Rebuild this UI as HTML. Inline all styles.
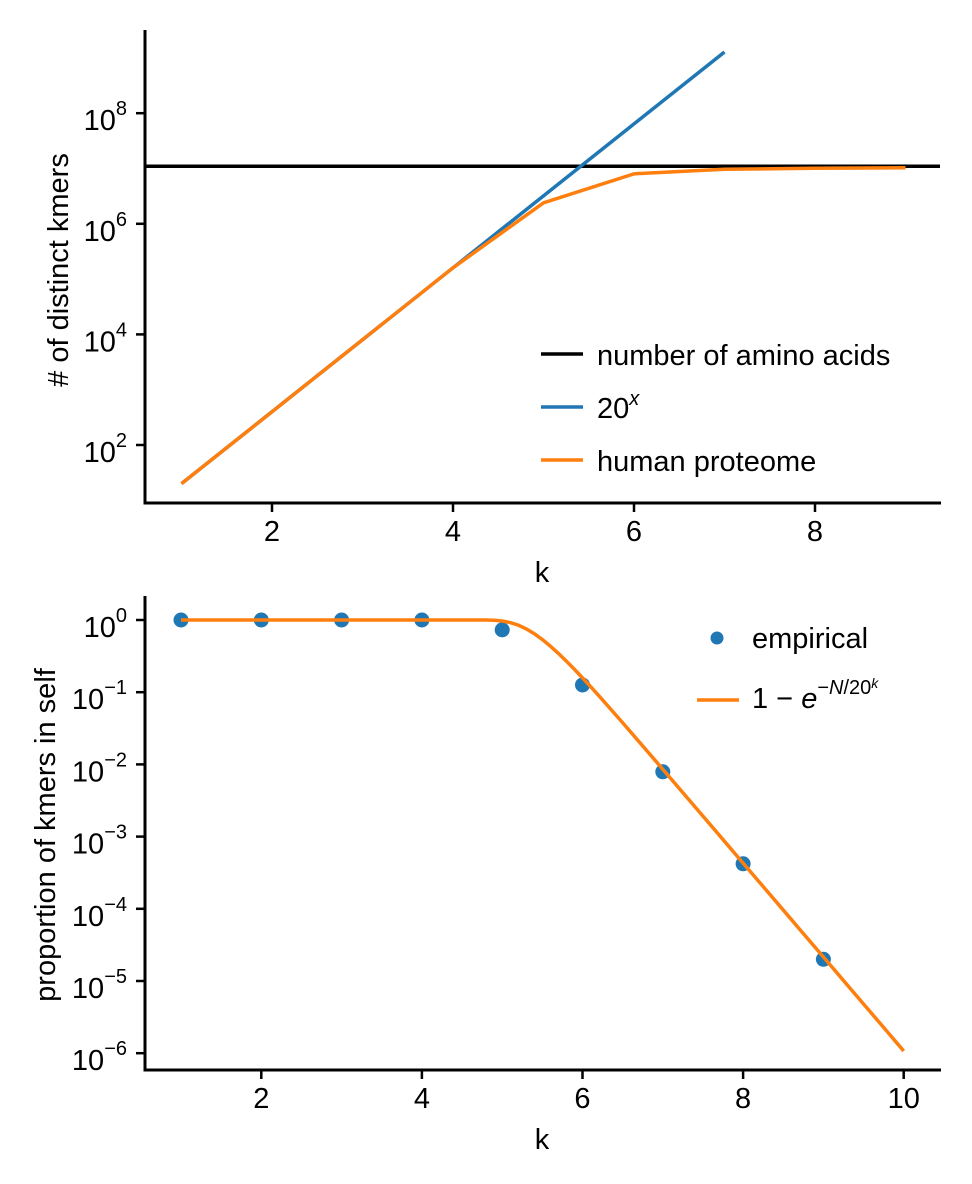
<!DOCTYPE html>
<html><head><meta charset="utf-8">
<style>
body{margin:0;background:#fff;}
svg{display:block;font-family:"Liberation Sans","DejaVu Sans",sans-serif;}
</style></head>
<body>
<svg id="fig" width="972" height="1184" viewBox="0 0 972 1184"></svg>
<script>
// ---- top chart data ----
const topK = [1,2,3,4,5,6,7,8,9];
const proteomeCounts = [20,400,8000,160000,2400000,8000000,9700000,10100000,10300000];
const powK = [1,2,3,4,5,6,7];
const powValues = [20,400,8000,160000,3200000,64000000,1280000000];
const aminoAcidCount = 11000000;
const topXTicks = [2,4,6,8];
const topYTicks = [2,4,6,8];
// ---- bottom chart data ----
const botK = [1,2,3,4,5,6,7,8,9];
const empirical = [1,1,1,1,0.73,0.126,0.0079,0.00042,0.00002];
const fitN = 11000000;
const fitKStart = 1, fitKEnd = 10, fitSteps = 90;
const botXTicks = [2,4,6,8,10];
const botYTicks = [0,-1,-2,-3,-4,-5,-6];

const NS='http://www.w3.org/2000/svg';
const svg=document.getElementById('fig');
function mk(tag,attrs,parent){const e=document.createElementNS(NS,tag);for(const k in attrs)e.setAttribute(k,attrs[k]);(parent||svg).appendChild(e);return e;}
const FS=29, SFS=20;

// top axes
const tx=k=>181.5+(k-1)*90.5;
const ty=v=>445-(Math.log10(v)-2)*55.3;
const gTop=mk('g',{});


let l=mk('line',{x1:145,x2:940,y1:ty(aminoAcidCount),y2:ty(aminoAcidCount),stroke:'#000','stroke-width':3.5},gTop);


let p=mk('polyline',{points:powK.map((k,i)=>tx(k)+','+ty(powValues[i])).join(' '),fill:'none',stroke:'#1f77b4','stroke-width':3.5},gTop);


p=mk('polyline',{points:topK.map((k,i)=>tx(k)+','+ty(proteomeCounts[i])).join(' '),fill:'none',stroke:'#ff7f0e','stroke-width':3.5},gTop);


mk('line',{x1:145,x2:145,y1:30,y2:504.5,stroke:'#000','stroke-width':3},gTop);
mk('line',{x1:143.5,x2:941,y1:503,y2:503,stroke:'#000','stroke-width':3},gTop);
topXTicks.forEach(t=>{mk('line',{x1:tx(t),x2:tx(t),y1:503,y2:512,stroke:'#000','stroke-width':2.5},gTop);
 const e=mk('text',{x:tx(t),y:541,'font-size':FS,'text-anchor':'middle'},gTop);e.textContent=t;
 });
topYTicks.forEach(t=>{const y=ty(Math.pow(10,t));mk('line',{x1:136,x2:145,y1:y,y2:y,stroke:'#000','stroke-width':2.5},gTop);
 const e=mk('text',{x:127,y:y+17,'font-size':FS,'text-anchor':'end'},gTop);e.innerHTML='10<tspan dy="-15" font-size="'+SFS+'">'+t+'</tspan>';
 });
let t=mk('text',{x:542,y:582,'font-size':FS,'text-anchor':'middle'},gTop);t.textContent='k';

t=mk('text',{x:0,y:0,'font-size':FS,'text-anchor':'middle',transform:'translate(68,270) rotate(-90)'},gTop);t.textContent='# of distinct kmers';

// top legend
[['#000','number of amino acids',354],['#1f77b4','20<tspan dy="-13" font-size="'+SFS+'" font-style="italic">x</tspan>',407],['#ff7f0e','human proteome',460]].forEach(([c,s,y])=>{
 mk('line',{x1:541,x2:583,y1:y,y2:y,stroke:c,'stroke-width':3.5},gTop);
 const e=mk('text',{x:597,y:y+11,'font-size':FS},gTop);e.innerHTML=s;
 });

// bottom axes
const bx=k=>181+(k-1)*80.3;
const by=v=>620-Math.log10(v)*72.2;
const gB=mk('g',{});


botK.forEach((k,i)=>{const c=mk('circle',{cx:bx(k),cy:by(empirical[i]),r:7.5,fill:'#1f77b4'},gB);
 });
const pts=[];for(let i=0;i<=fitSteps;i++){const k=fitKStart+(fitKEnd-fitKStart)*i/fitSteps;const v=-Math.expm1(-fitN/Math.pow(20,k));pts.push(bx(k)+','+by(v));}
p=mk('polyline',{points:pts.join(' '),fill:'none',stroke:'#ff7f0e','stroke-width':3.5},gB);

mk('line',{x1:145,x2:145,y1:596,y2:1071.5,stroke:'#000','stroke-width':3},gB);
mk('line',{x1:143.5,x2:941,y1:1070,y2:1070,stroke:'#000','stroke-width':3},gB);
botXTicks.forEach(v=>{mk('line',{x1:bx(v),x2:bx(v),y1:1070,y2:1079,stroke:'#000','stroke-width':2.5},gB);
 const e=mk('text',{x:bx(v),y:1108,'font-size':FS,'text-anchor':'middle'},gB);e.textContent=v;
 });
botYTicks.forEach(v=>{const y=by(Math.pow(10,v));mk('line',{x1:136,x2:145,y1:y,y2:y,stroke:'#000','stroke-width':2.5},gB);
 const e=mk('text',{x:127,y:y+17,'font-size':FS,'text-anchor':'end'},gB);e.innerHTML='10<tspan dy="-15" font-size="'+SFS+'">'+(v<0?'\u2212'+(-v):v)+'</tspan>';
 });
t=mk('text',{x:542,y:1149,'font-size':FS,'text-anchor':'middle'},gB);t.textContent='k';

t=mk('text',{x:0,y:0,'font-size':FS,'text-anchor':'middle',transform:'translate(55,835) rotate(-90)'},gB);t.textContent='proportion of kmers in self';

mk('circle',{cx:717,cy:638,r:6.5,fill:'#1f77b4'},gB);
t=mk('text',{x:752,y:648,'font-size':FS},gB);t.textContent='empirical';

mk('line',{x1:697,x2:739,y1:700,y2:700,stroke:'#ff7f0e','stroke-width':3.5},gB);
t=mk('text',{x:752,y:708,'font-size':FS},gB);
t.innerHTML='1 \u2212 <tspan font-style="italic">e</tspan><tspan dy="-14" font-size="'+SFS+'">\u2212<tspan font-style="italic">N</tspan>/20</tspan><tspan dy="-6" font-size="14" font-style="italic">k</tspan>';

</script>
</body></html>
